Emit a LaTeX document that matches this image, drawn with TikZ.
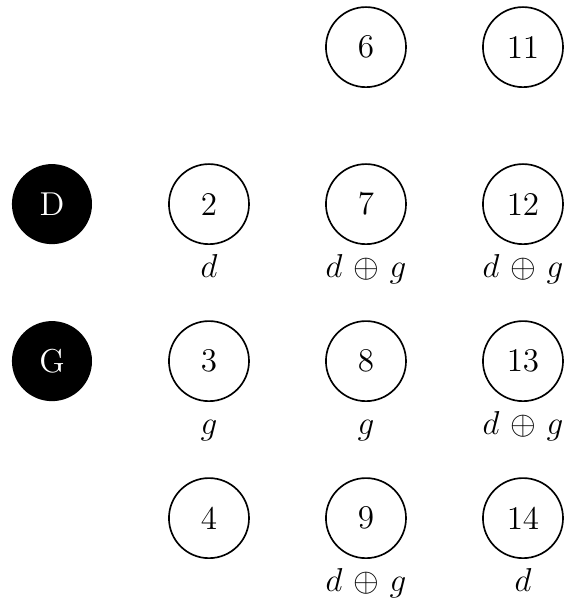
\documentclass[tikz,border=0pt]{standalone}
\begin{document}
\begin{tikzpicture}[
  every node/.style={font=\fontsize{12}{14}\selectfont},
  vtx/.style={circle,draw,line width=0.6pt,minimum size=1.02cm,inner sep=0pt},
  blk/.style={circle,fill=black,text=white,minimum size=1.02cm,inner sep=0pt},
  lbl/.style={inner sep=0pt}
]
\useasboundingbox (-0.662,2.6) rectangle (6.535,-5.094);
\node[blk] (D) at (0,0) {D};
\node[blk] (G) at (0,-2) {G};
\node[vtx] (n6) at (4,2) {6};
\node[vtx] (n11) at (6,2) {11};
\node[vtx] (n2) at (2,0) {2};
\node[vtx] (n7) at (4,0) {7};
\node[vtx] (n12) at (6,0) {12};
\node[vtx] (n3) at (2,-2) {3};
\node[vtx] (n8) at (4,-2) {8};
\node[vtx] (n13) at (6,-2) {13};
\node[vtx] (n4) at (2,-4) {4};
\node[vtx] (n9) at (4,-4) {9};
\node[vtx] (n14) at (6,-4) {14};
\node[lbl,anchor=base] (l2) at (2,-0.93) {$d$};
\node[lbl,anchor=base] (l7) at (4,-0.93) {$d$ $\oplus$ $g$};
\node[lbl,anchor=base] (l12) at (6,-0.93) {$d$ $\oplus$ $g$};
\node[lbl,anchor=base] (l3) at (2,-2.93) {$g$};
\node[lbl,anchor=base] (l8) at (4,-2.93) {$g$};
\node[lbl,anchor=base] (l13) at (6,-2.93) {$d$ $\oplus$ $g$};
\node[lbl,anchor=base] (l9) at (4,-4.93) {$d$ $\oplus$ $g$};
\node[lbl,anchor=base] (l14) at (6,-4.93) {$d$};
\end{tikzpicture}
\end{document}
